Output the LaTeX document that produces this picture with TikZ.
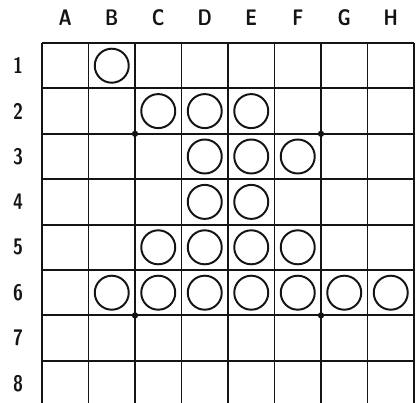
\documentclass[tikz,border=0pt]{standalone}
\usetikzlibrary{positioning}
\definecolor{boardink}{HTML}{141414}

\begin{document}
\begin{tikzpicture}[x=0.025cm, y=-0.025cm,
      rowline/.style={line width=1.4pt, draw=boardink},
      colline/.style={line width=1.1pt, draw=boardink},
      stone/.style={circle, draw=boardink, line width=1.4pt, fill=white,
                    minimum size=0.85cm, inner sep=0pt},
      label/.style={font=\fontsize{16}{16}\selectfont\sffamily\bfseries,
                    text=boardink, xscale=0.8, inner sep=0pt},
      starpoint/.style={circle, fill=boardink, inner sep=0pt,
                        minimum size=4.5pt}]
    \useasboundingbox (0,0) rectangle (420,402);
    \clip (0,0) rectangle (420,402);
    % board lines
    \foreach \i in {0,...,8} {
      \coordinate (top-\i) at ({42+46.5*\i},43);
      \coordinate (bot-\i) at ({42+46.5*\i},406);
      \coordinate (left-\i) at (42,{43+45.4*\i});
      \coordinate (right-\i) at (414,{43+45.4*\i});
      \draw[colline] (top-\i) -- (bot-\i);
      \draw[rowline] (left-\i) -- (right-\i);
    }
    % star points
    \foreach \i/\j in {2/2, 6/2, 2/6, 6/6}
      \node[starpoint] (star-\i-\j) at ({42+46.5*\i},{43+45.4*\j}) {};
    % column and row headings
    \foreach \col [count=\i from 0] in {A,B,C,D,E,F,G,H}
      \node[label] (head-\col) at ({42+46.5*(\i+0.5)},18) {\col};
    \foreach \r in {1,...,8}
      \node[label] (row-\r) at (18,{43+45.4*(\r-0.5)}) {\r};
    % stones
    \foreach \c/\r in {2/1, 3/2, 4/2, 5/2, 4/3, 5/3, 6/3, 4/4, 5/4,
                       3/5, 4/5, 5/5, 6/5, 2/6, 3/6, 4/6, 5/6, 6/6, 7/6, 8/6}
      \node[stone] (stone-\c-\r) at ({42+46.5*(\c-0.5)},{43+45.4*(\r-0.5)}) {};
  \end{tikzpicture}
\end{document}
